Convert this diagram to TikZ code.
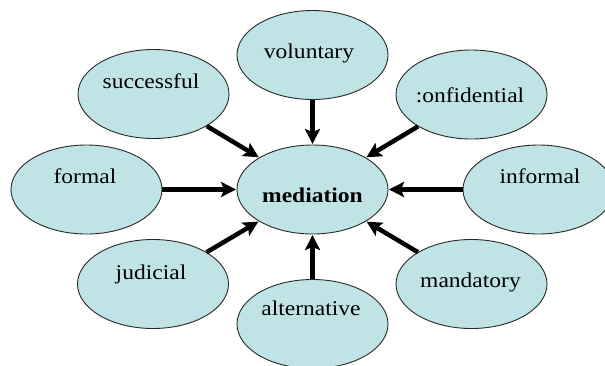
\documentclass[tikz,border=0pt]{standalone}
\usepackage{fontspec}
\setmainfont{Liberation Serif}[FakeStretch=1.12]
\usetikzlibrary{shapes.geometric,arrows.meta}
\definecolor{bubblefill}{RGB}{192,227,230}
\definecolor{bubbleline}{RGB}{40,40,40}
\tikzset{
  bubble/.style={ellipse, draw=bubbleline, line width=0.9pt, fill=bubblefill,
    minimum width=151pt, minimum height=89pt, inner sep=0pt},
  word/.style={anchor=base, inner sep=0pt, font=\fontsize{21}{21}\selectfont},
  feed/.style={line width=4.5pt, draw=black,
    -{Stealth[length=15pt,width=15pt,inset=3pt]}, shorten >=0.5pt}
}
\begin{document}
\begin{tikzpicture}[x=1pt,y=-1pt]
  \useasboundingbox (0,0) rectangle (605,365);

  % outer ring of bubbles
  \node[bubble] (vol) at (312.5,55)  {};
  \node[bubble] (suc) at (153.5,94)  {};
  \node[bubble] (con) at (471.5,94.5) {};
  \node[bubble] (frm) at (86.5,189.5) {};
  \node[bubble] (inf) at (538.5,189.5) {};
  \node[bubble] (jud) at (153,284)   {};
  \node[bubble] (man) at (471.5,284) {};
  \node[bubble] (alt) at (312.5,324) {};
  % central bubble
  \node[bubble] (med) at (312.5,189.5) {};

  % labels
  \node[word] (tvol) at (309,58)    {voluntary};
  \node[word] (tsuc) at (151,88)    {successful};
  \node[word] (tcon) at (470,102)   {:onfidential};
  \node[word] (tfrm) at (85,183.5)  {formal};
  \node[word] (tinf) at (540,183.5) {informal};
  \node[word] (tjud) at (151,279)   {judicial};
  \node[word] (tman) at (470.5,287) {mandatory};
  \node[word] (talt) at (311,315)   {alternative};
  \node[word,font=\fontsize{21}{21}\selectfont\bfseries] (tmed) at (312.5,202) {mediation};

  % arrows into the centre
  \foreach \src in {vol,suc,con,frm,inf,jud,man,alt}
    \draw[feed] (\src) -- (med);
\end{tikzpicture}
\end{document}
